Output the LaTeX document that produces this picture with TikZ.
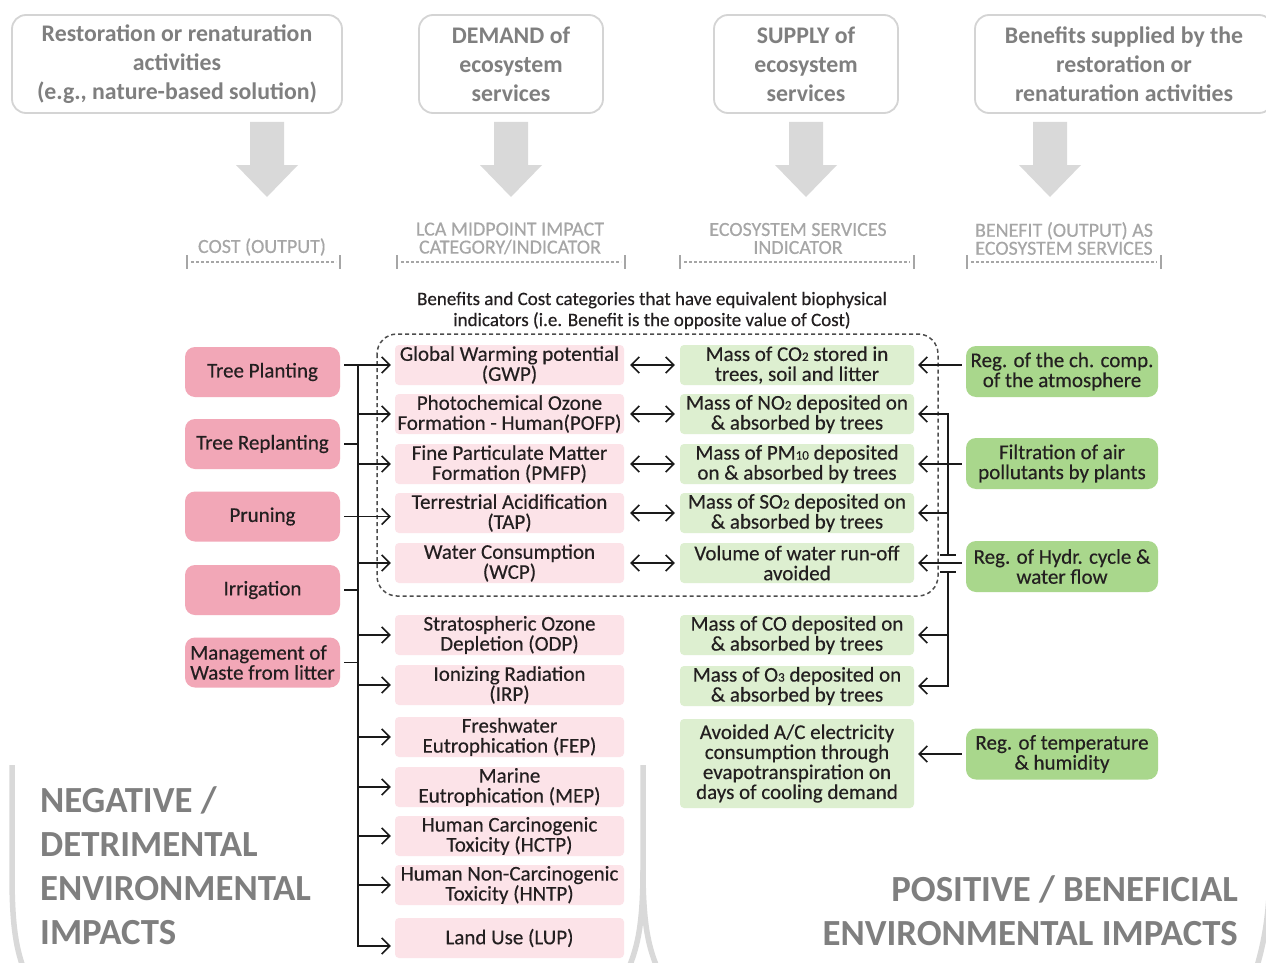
\documentclass[tikz,border=0pt]{standalone}
\usepackage{fontspec}
\setmainfont{Carlito}
\newfontfamily\heavyfont{Carlito}[FakeBold=0.35]
\usetikzlibrary{arrows.meta}

\definecolor{titlegray}{HTML}{7F7F7F}
\definecolor{hdrgray}{HTML}{A6A6A6}
\definecolor{boxline}{HTML}{D4D4D4}
\definecolor{blockgray}{HTML}{D9D9D9}
\definecolor{pinkdark}{HTML}{F2A7B7}
\definecolor{pinklight}{HTML}{FCE3E8}
\definecolor{greenlight}{HTML}{DDEFD0}
\definecolor{greendark}{HTML}{A9D78C}
\definecolor{linkblack}{HTML}{1A1A1A}
\definecolor{textblack}{HTML}{231F20}

% small inline index digits (CO2, PM10, ...)
\newcommand\idx[1]{{\fontsize{13}{13}\selectfont #1}}

\tikzset{
  topbox/.style={draw=boxline, line width=1.8pt, rounded corners=14pt, text=titlegray,
    font=\fontsize{23.8}{29}\selectfont\bfseries, align=center, inner sep=0pt,
    minimum height=98pt},
  hdr/.style={text=hdrgray, font=\heavyfont\fontsize{20}{18}\selectfont, align=center, inner sep=0pt},
  hdrline/.style={draw=hdrgray, line width=2.6pt, dash pattern=on 2.6pt off 2.4pt},
  hdrbar/.style={draw=hdrgray, line width=1.6pt},
  blockarrow/.style={fill=blockgray},
  boxtext/.style={font=\heavyfont\fontsize{21}{20}\selectfont, align=center, inner sep=0pt, text=textblack},
  act/.style={boxtext, fill=pinkdark, rounded corners=10pt, minimum width=155pt, minimum height=50pt},
  lca/.style={boxtext, fill=pinklight, rounded corners=4pt, minimum width=229pt, minimum height=40pt},
  esi/.style={boxtext, fill=greenlight, rounded corners=4pt, minimum width=234pt, minimum height=40pt},
  ben/.style={boxtext, fill=greendark, rounded corners=10pt, minimum width=192pt, minimum height=51pt},
  ln/.style={draw=linkblack, line width=1.6pt},
  arr/.style={ln, -{Straight Barb[length=8pt,width=16pt,line width=1.6pt]}, shorten >=4pt},
  dbl/.style={ln, {Straight Barb[length=8pt,width=16pt,line width=1.6pt]}-{Straight Barb[length=8pt,width=16pt,line width=1.6pt]},
    shorten >=5pt, shorten <=6pt},
  group/.style={draw=black!70, line width=1.5pt, dash pattern=on 4pt off 3pt, rounded corners=20pt},
  bigword/.style={text=titlegray, font=\fontsize{36.8}{44}\selectfont\bfseries, inner sep=0pt},
  bracket/.style={draw=blockgray, line width=5.5pt},
}

\begin{document}
\begin{tikzpicture}[x=1pt,y=-1pt]
\useasboundingbox (0,0) rectangle (1266,963);
\fill[white] (0,0) rectangle (1266,963);
\clip (0,0) rectangle (1266,963);

% ---------- large gray brackets in the background ----------
\draw[bracket] (12,765) -- (12,875) .. controls (12,930) and (17,950) .. (24,970);
\draw[bracket] (643,765) -- (643,870) .. controls (643,930) and (636,950) .. (628,970);
\draw[bracket] (643,870) .. controls (643,930) and (650,950) .. (658,970);
\draw[bracket] (1270,880) .. controls (1268,925) and (1263,945) .. (1256,970);

% ---------- top boxes ----------
\node[topbox, minimum width=330pt] (t1) at (177,64)
  {Restoration or renaturation\\activities\\(e.g., nature-based solution)};
\node[topbox, minimum width=184pt] (t2) at (511,64) {DEMAND of\\ecosystem\\services};
\node[topbox, minimum width=184pt] (t3) at (806,64) {SUPPLY of\\ecosystem\\services};
\node[topbox, minimum width=298pt] (t4) at (1124,64)
  {Benefits supplied by the\\restoration or\\renaturation activities};

% ---------- gray block arrows ----------
\foreach \cx in {267,511,806,1050}{
  \fill[blockarrow] (\cx-17,122) -- (\cx+17,122) -- (\cx+17,165) -- (\cx+31,165)
    -- (\cx,197) -- (\cx-31,165) -- (\cx-17,165) -- cycle;
}

% ---------- column headers ----------
\node[hdr] (h1) at (262,247) {COST (OUTPUT)};
\node[hdr] (h2) at (510,238.5) {LCA MIDPOINT IMPACT\\CATEGORY/INDICATOR};
\node[hdr] (h3) at (798,238.5) {ECOSYSTEM SERVICES\\INDICATOR};
\node[hdr] (h4) at (1064,238.5) {BENEFIT (OUTPUT) AS\\ECOSYSTEM SERVICES};
\foreach \xa/\xb in {187/340, 397/625, 680/914, 967/1161}{
  \draw[hdrline] (\xa+4,262) -- (\xb-4,262);
  \draw[hdrbar] (\xa,255) -- (\xa,269);
  \draw[hdrbar] (\xb,255) -- (\xb,269);
}

% ---------- caption and grouping frame ----------
\node[font=\heavyfont\fontsize{19}{21}\selectfont, text=textblack, align=center, inner sep=0pt] (cap) at (652,310.5)
  {Benefits and Cost categories that have equivalent biophysical\\indicators (i.e. Benefit is the opposite value of Cost)};
\draw[group] (377,334) rectangle (938,596);

% ---------- activities ----------
\node[act] (tp) at (262.5,372) {Tree Planting};
\node[act] (tr) at (262.5,444) {Tree Replanting};
\node[act] (pr) at (262.5,516.5) {Pruning};
\node[act] (ir) at (262.5,590) {Irrigation};
\node[act, align=left] (mw) at (262.5,662.5) {Management of\\Waste from litter};

% ---------- LCA midpoint categories ----------
\node[lca] (gwp)  at (509.5,365) {Global Warming potential\\(GWP)};
\node[lca] (pofp) at (509.5,414) {Photochemical Ozone\\Formation - Human(POFP)};
\node[lca] (pmfp) at (509.5,464) {Fine Particulate Matter\\Formation (PMFP)};
\node[lca] (tap)  at (509.5,513) {Terrestrial Acidification\\(TAP)};
\node[lca] (wcp)  at (509.5,563) {Water Consumption\\(WCP)};
\node[lca] (odp)  at (509.5,635) {Stratospheric Ozone\\Depletion (ODP)};
\node[lca] (irp)  at (509.5,685) {Ionizing Radiation\\(IRP)};
\node[lca] (fep)  at (509.5,737) {Freshwater\\Eutrophication (FEP)};
\node[lca] (mep)  at (509.5,787) {Marine\\Eutrophication (MEP)};
\node[lca] (hctp) at (509.5,836) {Human Carcinogenic\\Toxicity (HCTP)};
\node[lca] (hntp) at (509.5,885) {Human Non-Carcinogenic\\Toxicity (HNTP)};
\node[lca] (lup)  at (509.5,938) {Land Use (LUP)};

% ---------- ecosystem service indicators ----------
\node[esi] (co2) at (797,365) {Mass of CO\idx{2} stored in\\trees, soil and litter};
\node[esi] (no2) at (797,414) {Mass of NO\idx{2} deposited on\\\& absorbed by trees};
\node[esi] (pm)  at (797,464) {Mass of PM\idx{10} deposited\\on \& absorbed by trees};
\node[esi] (so2) at (797,513) {Mass of SO\idx{2} deposited on\\\& absorbed by trees};
\node[esi] (wat) at (797,563) {Volume of water run-off\\avoided};
\node[esi] (co)  at (797,635) {Mass of CO deposited on\\\& absorbed by trees};
\node[esi] (o3)  at (797,686) {Mass of O\idx{3} deposited on\\\& absorbed by trees};
\node[esi, minimum height=89pt] (ac) at (797,763.5)
  {Avoided A/C electricity\\consumption through\\evapotranspiration on\\days of cooling demand};

% ---------- benefits ----------
\node[ben] (atm) at (1062,371.5) {Reg. of the ch. comp.\\of the atmosphere};
\node[ben] (fil) at (1062,463.5) {Filtration of air\\pollutants by plants};
\node[ben] (hyd) at (1062,566.5) {Reg. of Hydr. cycle \&\\water flow};
\node[ben] (tmp) at (1062,754) {Reg. of temperature\\\& humidity};

% ---------- cost side links ----------
\coordinate (tk) at (358,365);
\draw[arr, shorten <=4pt] (tp.east |- gwp.west) -- (gwp.west);
\draw[arr] (tk) |- ([yshift=-8pt]lup.west);
\foreach \cat in {pofp,pmfp,wcp,odp,irp,fep,mep,hctp,hntp}{
  \draw[arr] (tk |- \cat.west) -- (\cat.west);
}
\draw[arr, shorten <=4pt] (pr.east) -- (tap.west |- pr.east);
\foreach \act in {tr,ir,mw}{
  \draw[ln, shorten <=4pt] (\act.east) -- (tk |- \act.east);
}

% ---------- equivalence links ----------
\draw[dbl] (gwp.east) -- (co2.west);
\draw[dbl] (pofp.east) -- (no2.west);
\draw[dbl] (pmfp.east) -- (pm.west);
\draw[dbl] (tap.east) -- (so2.west);
\draw[dbl] (wcp.east) -- (wat.west);

% ---------- benefit side links ----------
\coordinate (busA) at (948,555);
\coordinate (busB) at (948,572);
\draw[arr, shorten <=4pt] (atm.west |- co2.east) -- (co2.east);
\draw[arr, shorten <=4pt] (fil.west |- pm.east) -- (pm.east);
\draw[arr, shorten <=4pt] (hyd.west |- wat.east) -- (wat.east);
\draw[arr, shorten <=4pt] (tmp.west) -- (ac.east |- tmp.west);
\draw[arr] (busA) |- (no2.east);
\draw[arr] (busA |- so2.east) -- (so2.east);
\draw[arr] (busB) |- (o3.east);
\draw[arr] (busB |- co.east) -- (co.east);
\draw[ln] ([xshift=-8pt]busA) -- ([xshift=8pt]busA);
\draw[ln] ([xshift=-8pt]busB) -- ([xshift=8pt]busB);

% ---------- impact labels ----------
\node[bigword, anchor=north west, align=left] (neg) at (40,786)
  {NEGATIVE /\\DETRIMENTAL\\ENVIRONMENTAL\\IMPACTS};
\node[bigword, anchor=north east, align=right] (pos) at (1238,875)
  {POSITIVE / BENEFICIAL\\ENVIRONMENTAL IMPACTS};
\end{tikzpicture}
\end{document}
